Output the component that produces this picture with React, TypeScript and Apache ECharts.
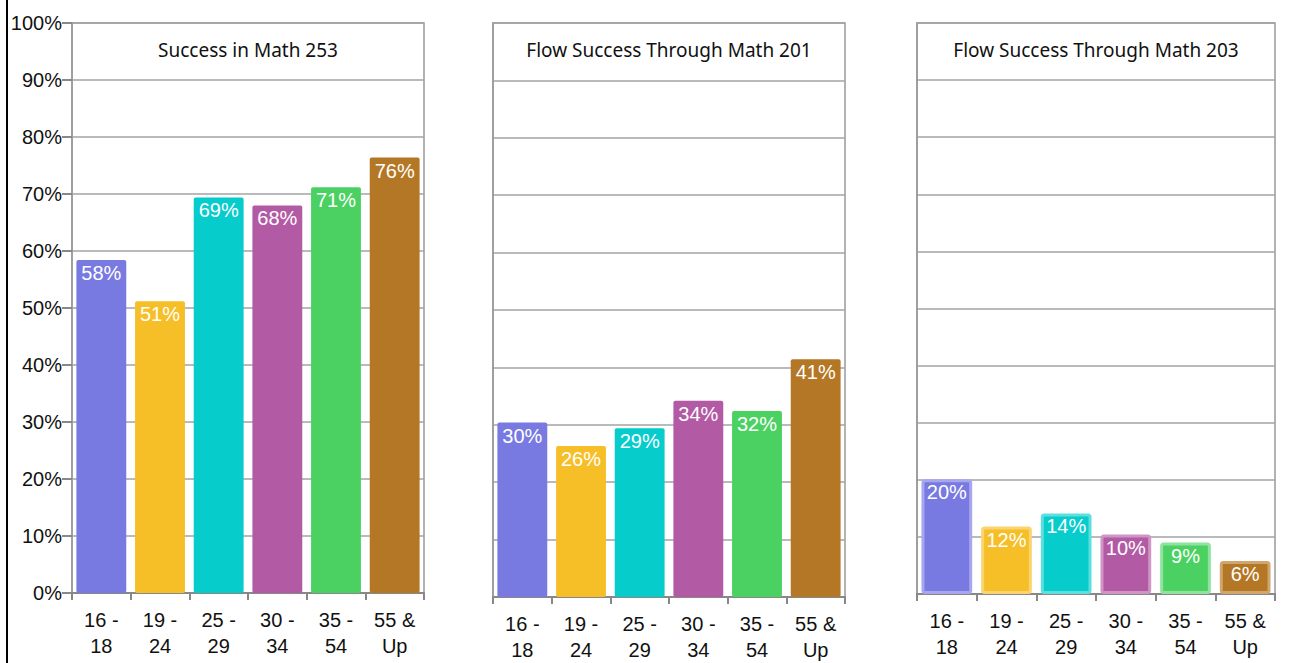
import React, { useEffect, useRef } from "react";
import * as echarts from "echarts";

const categories = ["16 -\n18", "19 -\n24", "25 -\n29", "30 -\n34", "35 -\n54", "55 &\nUp"];
const panelTitles = ["Success in Math 253", "Flow Success Through Math 201", "Flow Success Through Math 203"];
const math253 = [58.4, 51.2, 69.4, 68.0, 71.2, 76.4];
const flow201 = [30.4, 26.3, 29.4, 34.2, 32.4, 41.4];
const flow203 = [20.1, 11.8, 14.1, 10.4, 9.0, 5.8];
const barColors = ["#7879E1", "#F6BE27", "#06CCCC", "#B35AA5", "#4AD162", "#B47725"];
const barBorders = ["#A6A7EE", "#FAD470", "#5EDFDF", "#CE95C5", "#8FE39F", "#D1A56E"];

const grids = [
  { left: 72, width: 352, top: 23, height: 570 },
  { left: 493, width: 352, top: 23, height: 574 },
  { left: 917, width: 358, top: 23, height: 571 },
];

export default function App() {
  const ref = useRef<HTMLDivElement>(null);
  useEffect(() => {
    document.body.style.margin = "0";
    const chart = echarts.init(ref.current!, undefined, { renderer: "svg" });
    const datasets = [math253, flow201, flow203];
    const axisFont = "'Liberation Sans', Arial, sans-serif";
    const option: any = {
      animation: false,
      backgroundColor: "#fff",
      title: panelTitles.map((t, i) => ({
        text: t,
        left: grids[i].left + grids[i].width / 2,
        top: 40,
        textAlign: "center",
        padding: 0,
        textStyle: { fontFamily: "'Noto Sans', sans-serif", fontSize: 19, fontWeight: "normal", color: "#111" },
      })),
      grid: grids.map((g) => ({ ...g, show: true, borderColor: "#999", borderWidth: 1.5, backgroundColor: "transparent" })),
      xAxis: grids.map((g, i) => ({
        type: "category",
        gridIndex: i,
        data: categories,
        boundaryGap: true,
        axisLine: { show: true, lineStyle: { color: "#888", width: 2 } },
        axisTick: { show: true, length: 7, interval: 0, lineStyle: { color: "#888", width: 2 } },
        axisLabel: { interval: 0, fontSize: 20, lineHeight: 26, margin: 14, color: "#111", fontFamily: axisFont },
        splitLine: { show: false },
      })),
      yAxis: grids.map((g, i) => ({
        type: "value",
        gridIndex: i,
        min: 0,
        max: 100,
        interval: 10,
        axisLine: { show: true, lineStyle: { color: "#999", width: 1.5 } },
        axisTick: { show: i === 0, length: 10, lineStyle: { color: "#888", width: 2 } },
        axisLabel: { show: i === 0, formatter: "{value}%", fontSize: 20, color: "#111", margin: 10, fontFamily: axisFont },
        splitLine: { show: true, lineStyle: { color: "#a3a3a3", width: 1.5 } },
      })),
      series: datasets.map((d, i) => ({
        type: "bar",
        xAxisIndex: i,
        yAxisIndex: i,
        barCategoryGap: "15%",
        data: d.map((v, j) => ({
          value: v,
          itemStyle: {
            color: barColors[j],
            borderRadius: 2,
            borderColor: i === 2 ? barBorders[j] : barColors[j],
            borderWidth: i === 2 ? 3 : 0,
          },
        })),
        label: {
          show: true,
          position: "insideTop",
          distance: 3,
          color: "#fff",
          fontSize: 20,
          fontFamily: axisFont,
          formatter: (p: any) => Math.round(p.value) + "%",
        },
      })),
      graphic: [
        { type: "line", shape: { x1: 7, y1: 0, x2: 7, y2: 663 }, style: { stroke: "#000", lineWidth: 2 } },
      ],
    };
    chart.setOption(option);
    return () => chart.dispose();
  }, []);
  return <div ref={ref} style={{ width: 1296, height: 663 }} />;
}
